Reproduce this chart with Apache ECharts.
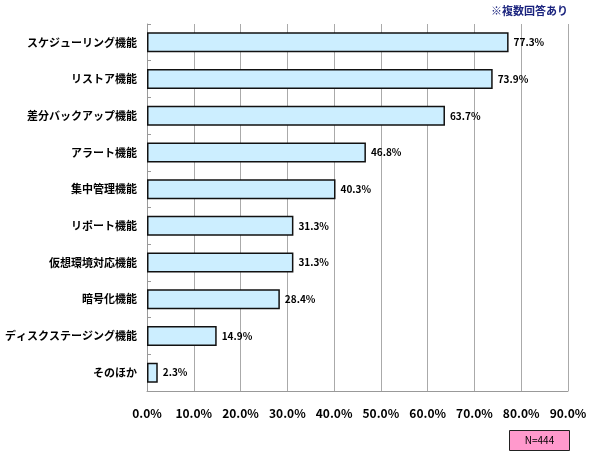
<!DOCTYPE html>
<html>
<head>
<meta charset="utf-8">
<script src="https://cdn.jsdelivr.net/npm/echarts@6/dist/echarts.min.js"></script>
<style>
  html, body { margin: 0; padding: 0; background: #fff; }
  #chart { width: 590px; height: 460px; }
</style>
</head>
<body>
<div id="chart"></div>
<script>
// バックアップ機能 — 複数回答 横棒グラフ

const categories = [
  'スケジューリング機能', 'リストア機能', '差分バックアップ機能', 'アラート機能',
  '集中管理機能', 'リポート機能', '仮想環境対応機能', '暗号化機能',
  'ディスクステージング機能', 'そのほか'
];
const values = [77.3, 73.9, 63.7, 46.8, 40.3, 31.3, 31.3, 28.4, 14.9, 2.3];
const noteText = '※複数回答あり';
const sampleText = 'N=444';

const FONT = '"Noto Sans CJK JP", "Noto Sans", sans-serif';

const chart = echarts.init(document.getElementById('chart'), null, { renderer: 'canvas' });

chart.setOption({
  backgroundColor: '#fff',
  animation: false,
  textStyle: { fontFamily: FONT },
  grid: { left: 147, right: 22, top: 24, bottom: 69, containLabel: false, outerBoundsMode: 'none' },
  xAxis: {
    type: 'value',
    min: 0,
    max: 90,
    interval: 10,
    axisLine: { show: true, lineStyle: { color: '#999', width: 1 } },
    axisTick: { show: false },
    splitLine: { show: true, lineStyle: { color: '#aaa', width: 1 } },
    axisLabel: {
      color: '#000',
      fontWeight: 'bold',
      fontSize: 12,
      margin: 16,
      fontFamily: FONT,
      formatter: (v) => v.toFixed(1) + '%'
    }
  },
  yAxis: {
    type: 'category',
    data: categories,
    inverse: true,
    axisLine: { show: true, lineStyle: { color: '#999', width: 1 } },
    axisTick: { show: true, inside: true, length: 4, lineStyle: { color: '#999' } },
    axisLabel: {
      color: '#000',
      fontWeight: 'bold',
      fontSize: 11,
      margin: 10,
      fontFamily: FONT
    }
  },
  series: [{
    type: 'bar',
    data: values,
    barWidth: 20,
    itemStyle: { color: '#cceeff', borderColor: '#111', borderWidth: 1.5 },
    label: {
      show: true,
      position: 'right',
      distance: 5,
      color: '#000',
      fontWeight: 'bold',
      fontSize: 10,
      fontFamily: FONT,
      formatter: (p) => p.value.toFixed(1) + '%'
    }
  }],
  graphic: [
    {
      type: 'text',
      right: 22,
      top: 5,
      style: {
        text: noteText,
        fill: '#1a237e',
        font: 'bold 11px ' + FONT
      }
    },
    {
      type: 'group',
      left: 509,
      top: 430,
      children: [
        {
          type: 'rect',
          shape: { x: 0, y: 0, width: 60, height: 20 },
          style: { fill: '#ff99cc', stroke: '#222', lineWidth: 1 }
        },
        {
          type: 'text',
          x: 30,
          y: 10,
          style: {
            text: sampleText,
            fill: '#000',
            font: '10px ' + FONT,
            textAlign: 'center',
            textVerticalAlign: 'middle'
          }
        }
      ]
    }
  ]
});
</script>
</body>
</html>
